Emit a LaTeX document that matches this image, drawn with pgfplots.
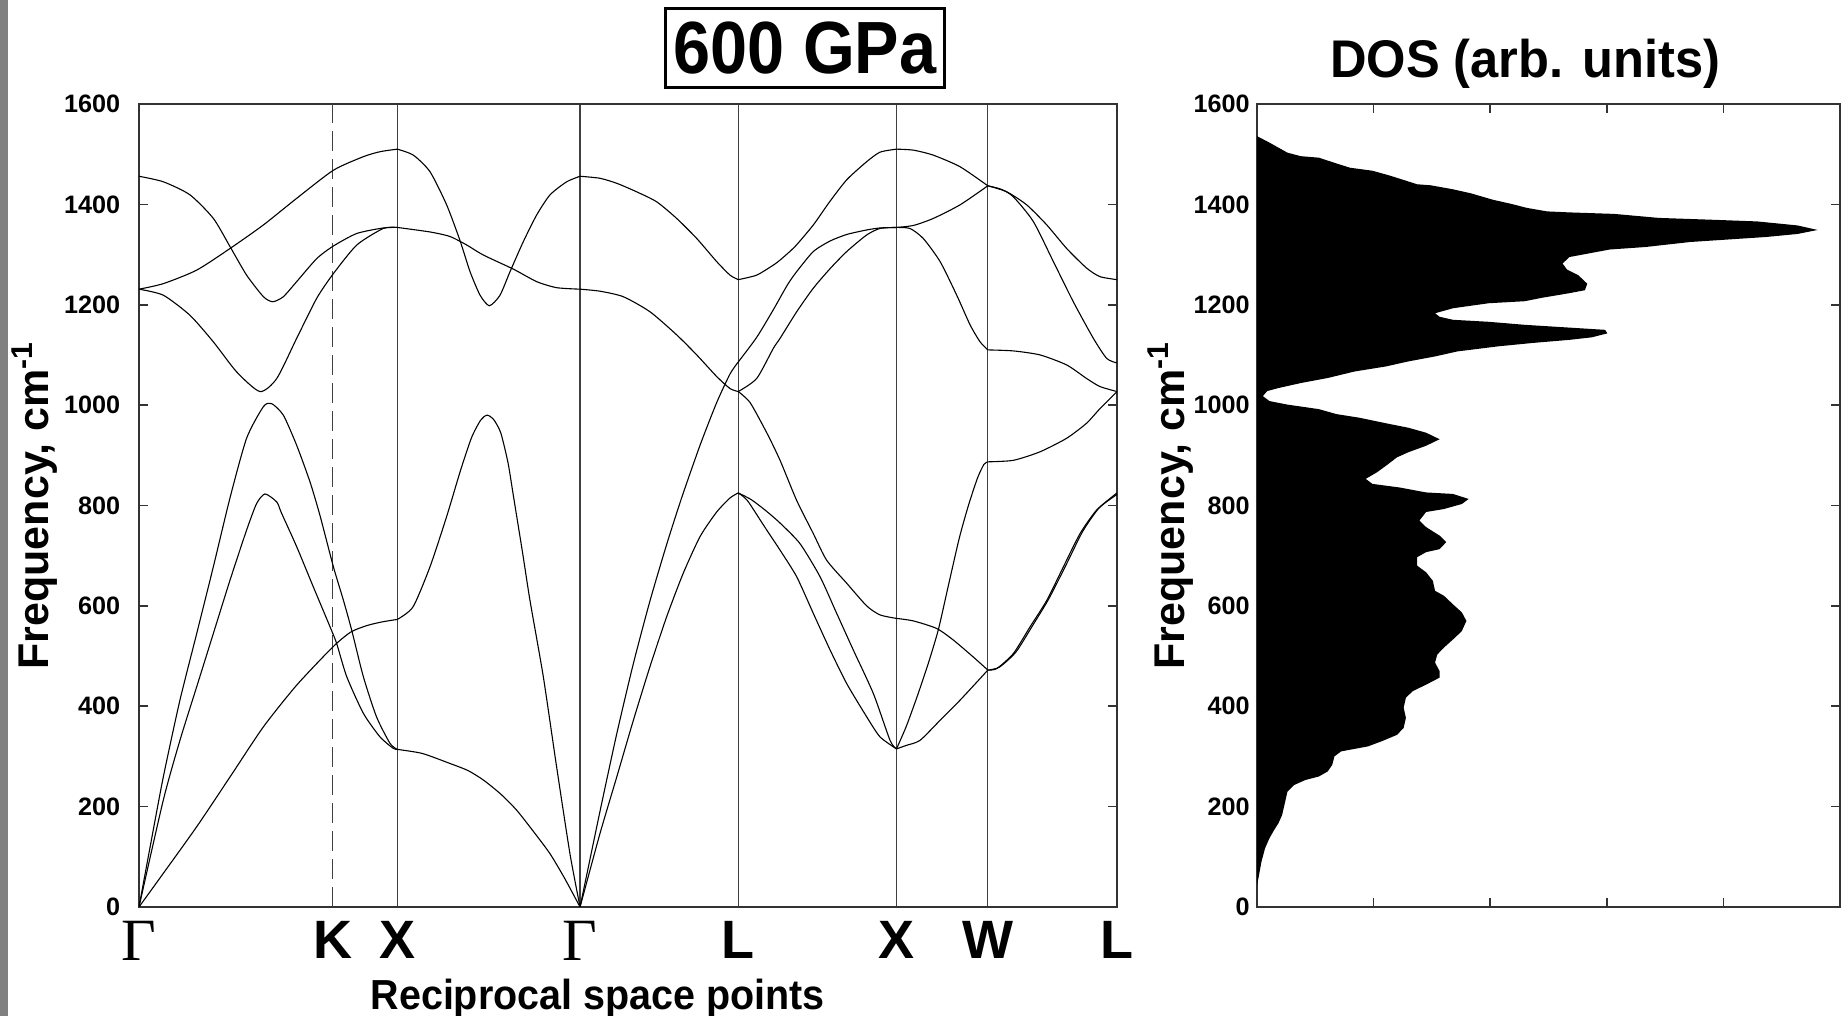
\documentclass[border=0pt]{standalone}
\usepackage{fontspec}
\setmainfont{Liberation Sans}
\newfontfamily\gfont{Liberation Serif}
\usepackage{graphicx}
\usepackage{pgfplots}
\pgfplotsset{compat=1.18}

\newcommand{\G}{{\gfont\mdseries\fontsize{30}{32}\selectfont Γ}}

\pgfplotsset{
  band/.style={black, line width=0.55pt, smooth, tension=0.4, mark=none},
  panel/.style={
    scale only axis, height=401.5pt,
    ymin=0, ymax=1600, ytick={0,200,...,1600},
    tick align=inside, ytick pos=both, yticklabel pos=left,
    major tick length=4.5pt,
    axis line style={black!80, line width=0.8pt},
    tick style={black!80, line width=0.8pt},
    /pgf/number format/1000 sep={},
    /pgf/number format/assume math mode=true,
    yticklabel style={font=\bfseries\fontsize{12.6}{14}\selectfont, inner sep=0pt, anchor=east},
    ylabel={Frequency, cm\textsuperscript{-1}},
    ylabel style={font=\bfseries\fontsize{21.5}{24}\selectfont, anchor=base},
  },
}

\begin{document}
\begin{tikzpicture}
\useasboundingbox (-69.5pt,-54.5pt) rectangle (852pt,453.5pt);
\fill[black!50] (-69.5pt,-54.5pt) rectangle (-65.5pt,453.5pt);

% phonon dispersion
\begin{axis}[panel, name=band,
  at={(0,0)}, anchor=south west, width=489pt,
  xmin=0, xmax=5.3534,
  xtick={0,1.4142,2.4142,3.2802,4.1463,4.6463,5.3534},
  xticklabels={\G,X,\G,L,X,W,L},
  extra x ticks={1.0607}, extra x tick labels={K},
  extra x tick style={grid=major, major grid style={black!75, line width=0.6pt, dash pattern=on 10pt off 4pt}},
  xmajorgrids, major grid style={black!75, line width=0.6pt},
  major x tick style={draw=none},
  xticklabel style={font=\bfseries\fontsize{27}{30}\selectfont, inner sep=0pt, anchor=north, yshift=-7pt},
  yticklabel style={xshift=-9.25pt},
  ylabel style={at={(axis description cs:-0.093,0.5)}},
  xlabel={\scalebox{0.94}[1]{Reciprocal space points}},
  xlabel style={at={(axis description cs:0.469,0)}, anchor=base, yshift=-51.5pt, font=\bfseries\fontsize{21}{24}\selectfont},
  title={\scalebox{0.9}[1]{600 GPa}},
  title style={at={(axis description cs:0.681,1.0697)}, anchor=center, yshift=-6pt, draw, line width=1.5pt,
    minimum width=139.5pt, minimum height=39.5pt, inner sep=0pt, font=\bfseries\fontsize{37}{40}\selectfont},
]
% Gamma - K - X
\addplot[band] coordinates {(0,1456) (0.133,1445) (0.279,1419) (0.407,1372) (0.498,1316) (0.589,1259) (0.681,1216) (0.732,1206) (0.79,1216) (0.863,1246) (0.973,1292) (1.064,1317) (1.192,1342) (1.337,1353) (1.4142,1354)};
\addplot[band] coordinates {(0,1231) (0.133,1242) (0.316,1269) (0.498,1312) (0.681,1359) (0.863,1412) (1.064,1468) (1.228,1495) (1.32,1505) (1.4142,1510)};
\addplot[band] coordinates {(0,1231) (0.133,1219) (0.279,1179) (0.407,1126) (0.535,1066) (0.662,1027) (0.754,1053) (0.863,1133) (0.973,1213) (1.064,1262) (1.192,1319) (1.337,1352) (1.4142,1354)};
\addplot[band] coordinates {(0,0) (0.06,118) (0.133,259) (0.224,412) (0.316,545) (0.407,678) (0.498,815) (0.589,934) (0.681,997) (0.726,1003) (0.79,980) (0.863,920) (0.936,847) (0.99,781) (1.064,678) (1.119,611) (1.164,552) (1.228,459) (1.3,379) (1.374,326) (1.4142,314)};
\addplot[band] coordinates {(0,0) (0.133,213) (0.224,332) (0.316,439) (0.407,545) (0.498,651) (0.589,751) (0.644,804) (0.69,823) (0.754,807) (0.78,785) (0.863,718) (0.954,638) (1.046,558) (1.082,525) (1.137,459) (1.228,386) (1.319,339) (1.392,316) (1.4142,314)};
\addplot[band] coordinates {(0,0) (0.133,67) (0.316,160) (0.498,259) (0.681,359) (0.863,442) (1.0607,518) (1.16,548) (1.25,561) (1.33,568) (1.4142,573)};
% X - Gamma
\addplot[band] coordinates {(1.4142,1510) (1.502,1498) (1.593,1465) (1.684,1399) (1.757,1328) (1.812,1266) (1.867,1219) (1.918,1198) (1.976,1219) (2.031,1266) (2.104,1326) (2.177,1379) (2.25,1419) (2.341,1445) (2.4142,1456)};
\addplot[band] coordinates {(1.4142,1354) (1.593,1345) (1.702,1336) (1.794,1319) (1.885,1299) (2.049,1271) (2.177,1246) (2.286,1234) (2.4142,1231)};
\addplot[band] coordinates {(1.4142,573) (1.50,598) (1.593,678) (1.684,778) (1.76,870) (1.82,935) (1.87,970) (1.905,980) (1.94,972) (1.98,945) (2.02,885) (2.049,820) (2.1,705) (2.14,611) (2.213,459) (2.286,279) (2.359,106) (2.4142,0)};
\addplot[band] coordinates {(1.4142,314) (1.55,306) (1.702,286) (1.8,272) (1.885,253) (1.98,225) (2.067,193) (2.16,150) (2.25,106) (2.33,57) (2.4142,0)};
% Gamma - L
\addplot[band] coordinates {(2.4142,1456) (2.523,1452) (2.615,1442) (2.724,1425) (2.834,1405) (2.943,1372) (3.053,1332) (3.162,1286) (3.235,1259) (3.2802,1250)};
\addplot[band] coordinates {(2.4142,1231) (2.523,1227) (2.651,1216) (2.797,1186) (2.943,1140) (3.053,1100) (3.162,1057) (3.235,1033) (3.2802,1027)};
\addplot[band] coordinates {(2.4142,0) (2.523,190) (2.615,345) (2.706,485) (2.797,610) (2.888,722) (2.97,815) (3.071,920) (3.162,1005) (3.235,1062) (3.2802,1086)};
\addplot[band] coordinates {(2.4142,0) (2.523,146) (2.615,259) (2.706,372) (2.797,479) (2.888,578) (2.979,665) (3.071,738) (3.162,787) (3.235,815) (3.2802,825)};
% L - X
\addplot[band] coordinates {(3.2802,1250) (3.381,1259) (3.472,1279) (3.509,1289) (3.591,1316) (3.691,1359) (3.78,1405) (3.874,1449) (3.983,1485) (4.056,1504) (4.1463,1510)};
\addplot[band] coordinates {(3.2802,1086) (3.381,1135) (3.472,1190) (3.55,1240) (3.6,1266) (3.691,1306) (3.783,1327) (3.874,1340) (3.983,1349) (4.056,1353) (4.1463,1354)};
\addplot[band] coordinates {(3.2802,1027) (3.381,1053) (3.472,1113) (3.509,1133) (3.6,1186) (3.691,1233) (3.783,1272) (3.874,1306) (3.983,1339) (4.056,1352) (4.1463,1354)};
\addplot[band] coordinates {(3.2802,1027) (3.345,1005) (3.436,945) (3.509,890) (3.6,810) (3.691,744) (3.764,691) (3.874,645) (3.983,600) (4.056,582) (4.1463,575)};
\addplot[band] coordinates {(3.2802,825) (3.35,812) (3.43,790) (3.509,765) (3.618,724) (3.728,658) (3.819,585) (3.91,512) (4.02,425) (4.111,332) (4.1463,315)};
\addplot[band] coordinates {(3.2802,825) (3.33,810) (3.42,760) (3.509,711) (3.6,658) (3.691,585) (3.783,512) (3.874,445) (3.983,379) (4.056,339) (4.1463,315)};
% X - W
\addplot[band] coordinates {(4.1463,1510) (4.239,1508) (4.348,1498) (4.494,1475) (4.6463,1437)};
\addplot[band] coordinates {(4.1463,1354) (4.239,1358) (4.348,1372) (4.494,1399) (4.6463,1437)};
\addplot[band] coordinates {(4.1463,1354) (4.22,1352) (4.293,1332) (4.385,1286) (4.476,1219) (4.549,1160) (4.604,1126) (4.6463,1110)};
\addplot[band] coordinates {(4.1463,575) (4.239,570) (4.366,555) (4.457,532) (4.567,498) (4.6463,472)};
\addplot[band] coordinates {(4.1463,315) (4.2,360) (4.26,420) (4.32,485) (4.375,552) (4.43,640) (4.49,735) (4.54,800) (4.59,855) (4.625,882) (4.6463,887)};
\addplot[band] coordinates {(4.1463,315) (4.2,322) (4.275,332) (4.385,372) (4.494,412) (4.6463,472)};
% W - L
\addplot[band] coordinates {(4.6463,1437) (4.75,1425) (4.859,1399) (4.969,1359) (5.078,1312) (5.187,1273) (5.26,1256) (5.3534,1250)};
\addplot[band] coordinates {(4.6463,1437) (4.72,1430) (4.786,1415) (4.895,1366) (5.005,1286) (5.114,1206) (5.224,1133) (5.297,1093) (5.3534,1084)};
\addplot[band] coordinates {(4.6463,1110) (4.786,1108) (4.932,1100) (5.078,1080) (5.187,1053) (5.26,1037) (5.3534,1027)};
\addplot[band] coordinates {(4.6463,887) (4.786,890) (4.932,907) (5.078,934) (5.187,964) (5.26,993) (5.3534,1027)};
\addplot[band] coordinates {(4.6463,472) (4.695,475) (4.786,505) (4.877,558) (4.969,611) (5.06,678) (5.151,744) (5.242,791) (5.3534,825)};
\addplot[band] coordinates {(4.6463,472) (4.71,478) (4.80,508) (4.89,560) (4.98,614) (5.075,682) (5.165,748) (5.255,795) (5.3534,822)};
\end{axis}

% density of states
\begin{axis}[panel, name=dos,
  at={(559pt,0)}, anchor=south west, width=291.5pt,
  xmin=0, xmax=5, xtick={1,2,3,4}, xticklabels={},
  tick pos=both, yticklabel pos=left,
  yticklabel style={xshift=-3.5pt},
  ylabel style={at={(axis description cs:-0.1252,0.5)}},
  title={\scalebox{0.955}[1]{DOS (arb. units)}},
  title style={at={(axis description cs:0.46,1)}, anchor=base, yshift=7pt, font=\bfseries\fontsize{26.5}{30}\selectfont},
]
\addplot[fill=black, draw=none, sharp plot] coordinates {
(0,43) (0.012,57) (0.038,90) (0.069,117) (0.107,137) (0.146,153) (0.184,167) (0.215,183) (0.242,210) (0.261,230)
(0.318,243) (0.414,253) (0.530,260) (0.606,270) (0.645,283) (0.664,300) (0.721,310) (0.952,320) (1.067,330) (1.201,343)
(1.258,357) (1.277,377) (1.258,397) (1.277,417) (1.335,430) (1.450,443) (1.566,457) (1.566,470) (1.527,487) (1.546,503)
(1.604,517) (1.700,537) (1.757,550) (1.796,570) (1.757,587) (1.681,603) (1.604,620) (1.527,630) (1.508,650) (1.450,667)
(1.374,680) (1.374,697) (1.450,707) (1.566,713) (1.623,727) (1.566,740) (1.450,757) (1.393,770) (1.450,787) (1.604,793)
(1.757,803) (1.815,813) (1.681,823) (1.450,826) (1.220,836) (0.990,843) (0.932,853) (1.028,866) (1.105,879) (1.201,896)
(1.297,906) (1.450,919) (1.566,932) (1.450,945) (1.297,955) (1.144,962) (0.875,975) (0.683,982) (0.530,992) (0.261,1001)
(0.107,1008) (0.050,1018) (0.088,1028) (0.184,1034) (0.376,1044) (0.606,1054) (0.837,1067) (1.105,1077) (1.297,1087) (1.527,1097)
(1.719,1107) (2.064,1117) (2.371,1124) (2.678,1130) (2.870,1135) (3.005,1143) (2.985,1150) (2.640,1155) (2.295,1160) (1.988,1166)
(1.681,1170) (1.566,1176) (1.527,1183) (1.681,1193) (1.988,1203) (2.295,1207) (2.448,1214) (2.678,1223) (2.813,1229) (2.832,1242)
(2.755,1259) (2.659,1270) (2.621,1282) (2.678,1295) (2.794,1300) (3.024,1310) (3.331,1315) (3.715,1325) (4.367,1335) (4.635,1341)
(4.808,1349) (4.635,1358) (4.290,1366) (3.945,1369) (3.446,1373) (3.062,1381) (2.678,1384) (2.487,1386) (2.314,1393) (2.180,1401)
(2.026,1409) (1.834,1422) (1.681,1430) (1.489,1438) (1.374,1440) (1.144,1457) (0.990,1467) (0.798,1473) (0.702,1480) (0.530,1493)
(0.376,1496) (0.261,1503) (0.107,1523) (0,1536)
};
\end{axis}
\end{tikzpicture}
\end{document}
